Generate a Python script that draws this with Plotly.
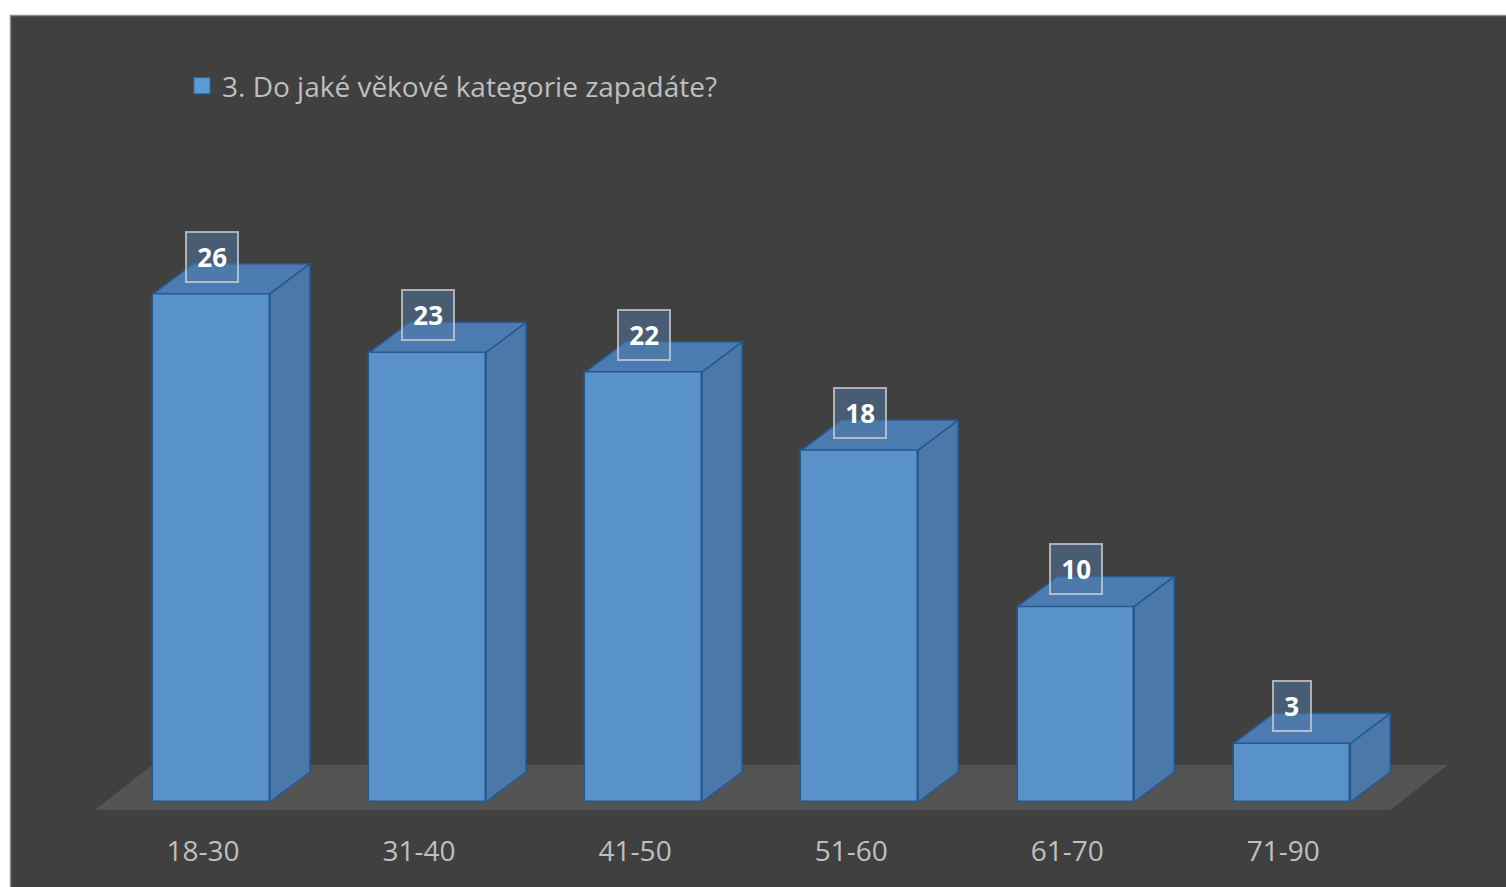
import plotly.graph_objects as go

# ---------------- data ----------------
categories = ["18-30", "31-40", "41-50", "51-60", "61-70", "71-90"]
values = [26, 23, 22, 18, 10, 3]
series_name = "3. Do jaké věkové kategorie zapadáte?"

# ---------------- layout constants ----------------
W_PX, H_PX = 1506, 887
M_L, M_R, M_T, M_B = 82, 52, 130, 77
X_RANGE = [-0.6, 5.75]
Y_RANGE = [-0.41, 34.37]
PLOT_W = W_PX - M_L - M_R
PLOT_H = H_PX - M_T - M_B

BAR_W = 0.54
DX = 40 / (PLOT_W / (X_RANGE[1] - X_RANGE[0]))
DY = 30 / (PLOT_H / (Y_RANGE[1] - Y_RANGE[0]))
LABEL_OFF = 1.9

FRONT = "#5892c9"
SIDE = "#4a78a8"
TOP = "#4b7bb0"
EDGE = "#24598f"
TXT = "#bfbfbf"
BG = "#404040"
FLOOR = "#545454"
FONT = "Open Sans"


def px_to_paper_x(px):
    return (px - M_L) / PLOT_W


def px_to_paper_y(py):
    return 1 - (py - M_T) / PLOT_H


xs = list(range(len(categories)))

fig = go.Figure()

# side and top faces (computed from data values)
for i, v in zip(xs, values):
    xr = i + BAR_W / 2
    xl = i - BAR_W / 2
    fig.add_trace(go.Scatter(
        x=[xr, xr + DX, xr + DX, xr, xr],
        y=[0, DY, v + DY, v, 0],
        fill="toself", fillcolor=SIDE, mode="lines",
        line=dict(color=EDGE, width=1.5),
        hoverinfo="skip", showlegend=False))
    fig.add_trace(go.Scatter(
        x=[xl, xl + DX, xr + DX, xr, xl],
        y=[v, v + DY, v + DY, v, v],
        fill="toself", fillcolor=TOP, mode="lines",
        line=dict(color=EDGE, width=1.5),
        hoverinfo="skip", showlegend=False))

# front faces
fig.add_trace(go.Bar(
    x=xs, y=values, width=BAR_W, base=0,
    marker=dict(color=FRONT, line=dict(color=EDGE, width=1.5)),
    name=series_name, showlegend=False))

# legend entry
fig.add_trace(go.Scatter(
    x=[None], y=[None], mode="markers", name=series_name,
    marker=dict(symbol="square", size=19, color="#5b9bd5",
                line=dict(color="#2e6da4", width=1)),
    showlegend=True))

# value labels
for i, v in zip(xs, values):
    fig.add_annotation(
        x=i, y=v + LABEL_OFF, text=f"\u2009<b>{v}</b>\u2009", showarrow=False,
        font=dict(family=FONT, size=26, color="white"),
        bgcolor="rgba(80,120,165,0.5)",
        bordercolor="rgba(210,210,210,0.75)", borderwidth=2, borderpad=6)

shapes = [
    # chart area
    dict(type="rect", xref="paper", yref="paper", layer="below",
         x0=px_to_paper_x(10.5), x1=px_to_paper_x(1520),
         y0=px_to_paper_y(900), y1=px_to_paper_y(15.5),
         fillcolor=BG, line=dict(color="#8c8c8c", width=1.5)),
]
n = len(categories)
fx0, fx1 = -0.54, (n - 1) + 0.456
fdx = 0.265
fy0, fy1 = -0.41, 1.89
shapes.append(dict(
    type="path", xref="x", yref="y", layer="below",
    path=f"M{fx0},{fy0} L{fx1},{fy0} L{fx1 + fdx},{fy1} L{fx0 + fdx},{fy1} Z",
    fillcolor=FLOOR, line=dict(width=0)))

fig.update_layout(
    width=W_PX, height=H_PX,
    margin=dict(l=M_L, r=M_R, t=M_T, b=M_B, pad=0),
    paper_bgcolor="white", plot_bgcolor="rgba(0,0,0,0)",
    shapes=shapes,
    showlegend=True,
    legend=dict(orientation="h", x=px_to_paper_x(182), y=px_to_paper_y(61),
                xanchor="left", yanchor="top",
                font=dict(family=FONT, size=28, color=TXT),
                bgcolor="rgba(0,0,0,0)"),
    xaxis=dict(range=X_RANGE, tickmode="array",
               tickvals=[x - 0.04 for x in xs], ticktext=categories,
               tickfont=dict(family=FONT, size=28, color=TXT),
               ticks="outside", ticklen=16, tickcolor="rgba(0,0,0,0)",
               showgrid=False, zeroline=False, showline=False, fixedrange=True),
    yaxis=dict(range=Y_RANGE, visible=False, showgrid=False, zeroline=False,
               fixedrange=True),
    bargap=0,
)

fig.write_html("out.html")
